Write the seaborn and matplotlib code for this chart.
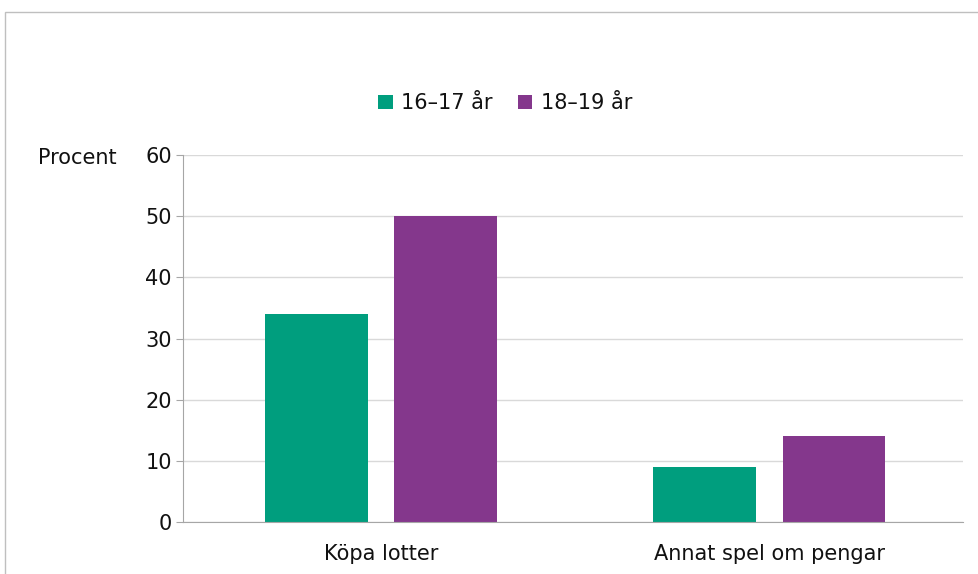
import matplotlib
matplotlib.use("Agg")
from matplotlib import pyplot as plt
from matplotlib.patches import Rectangle
import seaborn as sns
import pandas as pd

# Värden
kategorier = ['Köpa lotter', 'Annat spel om pengar']
alder_16_17 = [34, 9]
alder_18_19 = [50, 14]
grupper = ['16–17 år', '18–19 år']
farger = ['#009E7E', '#84378C']

df = pd.DataFrame({
    'Kategori': kategorier * 2,
    'Procent': alder_16_17 + alder_18_19,
    'Ålder': [grupper[0]] * 2 + [grupper[1]] * 2,
})

sns.set_style('white')
plt.rcParams['font.family'] = ['DejaVu Sans']
plt.rcParams['text.color'] = '#111111'

fig = plt.figure(figsize=(9.79, 5.74), dpi=100)
ax = fig.add_axes([0.187, 0.0906, 0.797, 0.639])

sns.barplot(data=df, x='Kategori', y='Procent', hue='Ålder', order=kategorier,
            hue_order=grupper, palette=farger, width=0.667, saturation=1,
            linewidth=0, ax=ax, legend=True)

# smalare staplar med mellanrum
for p in ax.patches:
    if p.get_height() > 0 and p.get_width() < 1:
        c = p.get_x() + p.get_width() / 2
        p.set_width(0.265)
        p.set_x(c - 0.265 / 2)

ax.set_ylim(0, 60)
ax.set_xlim(-0.51, 1.50)
ax.set_yticks(range(0, 61, 10))
ax.yaxis.grid(True, color='#D9D9D9', linewidth=1)
ax.set_axisbelow(True)
ax.set_xlabel('')
ax.set_ylabel('')
for s in ['top', 'right']:
    ax.spines[s].set_visible(False)
ax.spines['left'].set_color('#A6A6A6')
ax.spines['bottom'].set_color('#A6A6A6')
ax.tick_params(axis='y', left=True, length=5, color='#A6A6A6', labelsize=15,
               pad=3, labelcolor='#111111')
ax.tick_params(axis='x', bottom=False, labelsize=15, pad=12, labelcolor='#111111')

handles, labels = ax.get_legend_handles_labels()
ax.get_legend().remove()
fig.legend(handles, labels, loc='center', bbox_to_anchor=(0.516, 0.82), ncol=2,
           frameon=False, fontsize=15, handlelength=0.7, handleheight=0.7,
           handletextpad=0.4, columnspacing=1.2)

fig.text(0.039, 0.725, 'Procent', fontsize=15, va='center', ha='left')

fig.patches.append(Rectangle((5 / 979, -0.2), 1.2, 1.2 - 12 / 574,
                             transform=fig.transFigure, fill=False,
                             edgecolor='#BFBFBF', linewidth=1))

plt.savefig('out.png', dpi=100)
plt.close()
